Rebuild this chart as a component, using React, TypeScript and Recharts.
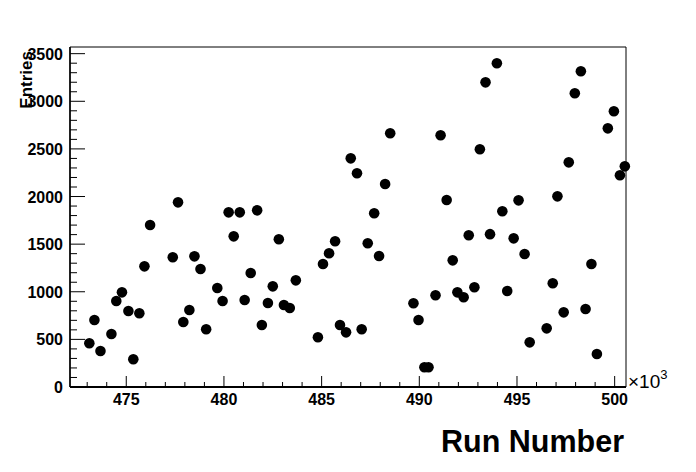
import React from 'react';
import { ScatterChart, Scatter, XAxis, YAxis, ReferenceArea } from 'recharts';

const runs: number[] = [
  473110, 473370, 473680, 474240, 474490, 474780, 475110, 475360, 475670, 475930,
  476220, 477380, 477650, 477920, 478230, 478490, 478800, 479090, 479660, 479930,
  480240, 480500, 480810, 481060, 481370, 481700, 481940, 482250, 482500, 482810,
  483070, 483370, 483680, 484810, 485070, 485380, 485690, 485940, 486250, 486490,
  486810, 487050, 487360, 487690, 487940, 488250, 488510, 489700, 489960, 490260,
  490470, 490830, 491090, 491400, 491710, 491950, 492270, 492530, 492820, 493100,
  493390, 493620, 493970, 494250, 494500, 494830, 495080, 495390, 495650, 496520,
  496830, 497070, 497390, 497650, 497960, 498270, 498510, 498810, 499090, 499650,
  499960, 500270, 500520,
];

const entries: number[] = [
  459, 703, 378, 556, 903, 994, 798, 291, 774, 1267,
  1701, 1362, 1939, 682, 808, 1372, 1239, 606, 1040, 903,
  1834, 1582, 1834, 914, 1197, 1855, 651, 882, 1057, 1551,
  861, 829, 1120, 522, 1292, 1404, 1530, 651, 574, 2401,
  2244, 606, 1509, 1824, 1375, 2131, 2664, 879, 703, 207,
  207, 963, 2643, 1963, 1330, 994, 942, 1593, 1047, 2496,
  3199, 1605, 3399, 1845, 1008, 1561, 1960, 1397, 469, 616,
  1089, 2002, 784, 2359, 3084, 3315, 819, 1292, 347, 2716,
  2895, 2223, 2317,
];

const xDomain: [number, number] = [472120, 500580];
const yDomain: [number, number] = [0, 3570];
const xTicks: number[] = Array.from({ length: 28 }, (_, i) => 473000 + i * 1000);
const yTicks: number[] = Array.from({ length: 36 }, (_, i) => i * 100);

const data = runs.map((r, i) => ({ run: r, entries: entries[i] }));

const FONT = '"Liberation Sans", Arial, Helvetica, sans-serif';

const XTick = (props: any) => {
  const { x, y, payload } = props;
  const v = payload.value as number;
  const major = v % 5000 === 0;
  return (
    <g>
      <line x1={x} x2={x} y1={y} y2={y - (major ? 11 : 5)} stroke="#000" strokeWidth={1} />
      {major && (
        <text x={x} y={y + 18} textAnchor="middle" fontFamily={FONT} fontWeight="bold" fontSize={16} fill="#000">
          {v / 1000}
        </text>
      )}
    </g>
  );
};

const YTick = (props: any) => {
  const { x, y, payload } = props;
  const v = payload.value as number;
  const major = v % 500 === 0;
  return (
    <g>
      <line x1={x} x2={x + (major ? 15 : 7)} y1={y} y2={y} stroke="#000" strokeWidth={1} />
      {major && (
        <text x={x - 7} y={y + 6} textAnchor="end" fontFamily={FONT} fontWeight="bold" fontSize={16} fill="#000">
          {v}
        </text>
      )}
    </g>
  );
};

const XLabel = (props: any) => {
  const vb = props.viewBox || {};
  const x = vb.x ?? 70;
  const y = vb.y ?? 387;
  const w = vb.width ?? 556;
  return (
    <g>
      <text x={x + w - 2} y={y + 65} textAnchor="end" fontFamily={FONT} fontWeight="bold" fontSize={30.5} fill="#000">
        Run Number
      </text>
      <text x={x + w + 2} y={y + 1} textAnchor="start" fontFamily={FONT} fontSize={19} fill="#000">
        ×10
        <tspan dy={-9} fontSize={13}>3</tspan>
      </text>
    </g>
  );
};

const YLabel = (props: any) => {
  const vb = props.viewBox || {};
  const x = vb.x ?? 0;
  const y = vb.y ?? 47;
  const tx = x + 32;
  const ty = y + 4;
  return (
    <text
      x={tx}
      y={ty}
      transform={`rotate(-90 ${tx} ${ty})`}
      textAnchor="end"
      fontFamily={FONT}
      fontWeight="bold"
      fontSize={17}
      fill="#000"
    >
      Entries
    </text>
  );
};

const Dot = (props: any) => {
  const { cx, cy } = props;
  if (cx == null || cy == null) return null;
  return <circle cx={cx} cy={cy} r={5.3} fill="#000" />;
};

export default function App() {
  return (
    <div style={{ position: 'absolute', left: 0, top: 0, width: 696, height: 472, background: '#fff' }}>
      <ScatterChart width={696} height={472} margin={{ top: 47, right: 70, bottom: 0, left: 0 }}>
        <XAxis
          type="number"
          dataKey="run"
          domain={xDomain}
          ticks={xTicks}
          interval={0}
          tickSize={0}
          tickMargin={0}
          tick={<XTick />}
          height={85}
          axisLine={{ stroke: '#000', strokeWidth: 2 }}
          label={<XLabel />}
        />
        <YAxis
          type="number"
          dataKey="entries"
          domain={yDomain}
          ticks={yTicks}
          interval={0}
          tickSize={0}
          tickMargin={0}
          tick={<YTick />}
          width={70}
          axisLine={{ stroke: '#000', strokeWidth: 1.5 }}
          label={<YLabel />}
        />
        <ReferenceArea x1={xDomain[0]} x2={xDomain[1]} y1={yDomain[0]} y2={yDomain[1]} fill="none" stroke="#000" strokeWidth={1} />
        <Scatter data={data} fill="#000" shape={<Dot />} isAnimationActive={false} />
      </ScatterChart>
    </div>
  );
}
